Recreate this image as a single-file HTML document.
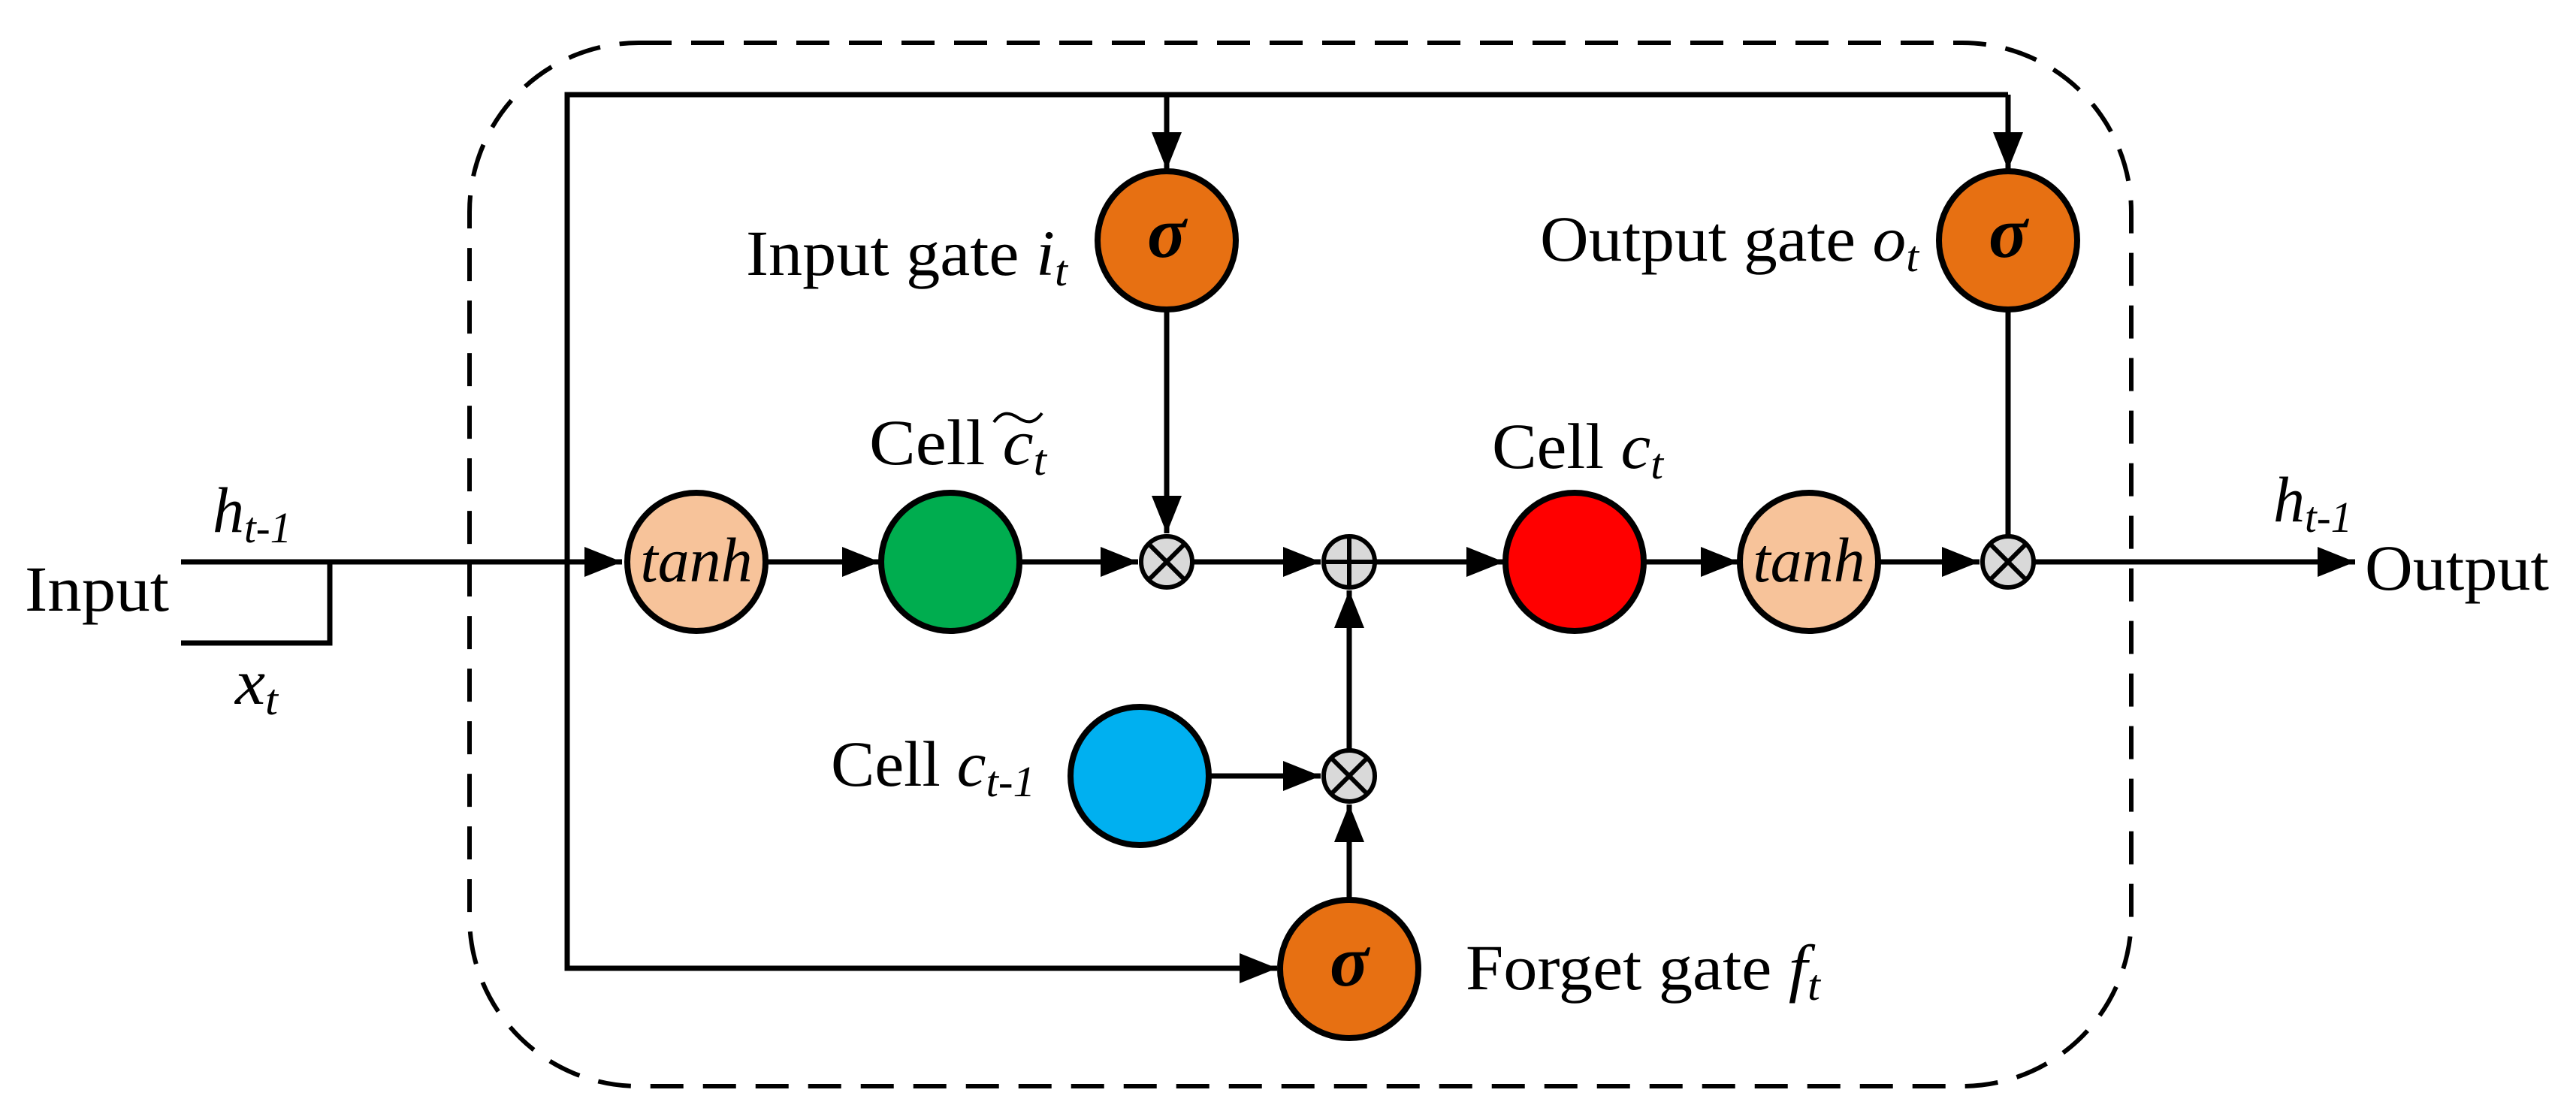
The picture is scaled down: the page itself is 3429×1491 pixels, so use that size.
<!DOCTYPE html>
<html><head><meta charset="utf-8"><style>html,body{margin:0;padding:0;background:#fff}svg{display:block}text{font-family:"Liberation Serif","Times New Roman",serif}</style></head>
<body>
<svg width="3429" height="1491" viewBox="0 0 3429 1491" xmlns="http://www.w3.org/2000/svg">
<defs>
<marker id="a" markerWidth="50" markerHeight="40" refX="50" refY="20" orient="auto" markerUnits="userSpaceOnUse">
<path d="M0,0 L50,20 L0,40 Z" fill="#000"/></marker>
</defs>
<rect x="625" y="57" width="2212" height="1389" rx="225" ry="225" fill="none" stroke="#000" stroke-width="6" stroke-dasharray="44,26"/>
<g stroke="#000" stroke-width="7" fill="none">
<line x1="241" y1="748" x2="828" y2="748" marker-end="url(#a)"/>
<polyline points="241,856 439,856 439,748"/>
<polyline points="1700,1289 755,1289 755,126 2673,126"/>
<line x1="755" y1="1289" x2="1700" y2="1289" marker-end="url(#a)"/>
<line x1="1553" y1="126" x2="1553" y2="226" marker-end="url(#a)"/>
<line x1="2673" y1="126" x2="2673" y2="226" marker-end="url(#a)"/>
<line x1="1020" y1="748" x2="1171" y2="748" marker-end="url(#a)"/>
<line x1="1358" y1="748" x2="1515" y2="748" marker-end="url(#a)"/>
<line x1="1589" y1="748" x2="1758" y2="748" marker-end="url(#a)"/>
<line x1="1832" y1="748" x2="2002" y2="748" marker-end="url(#a)"/>
<line x1="2189" y1="748" x2="2314" y2="748" marker-end="url(#a)"/>
<line x1="2501" y1="748" x2="2635" y2="748" marker-end="url(#a)"/>
<line x1="2709" y1="748" x2="3135" y2="748" marker-end="url(#a)"/>
<line x1="1553" y1="412" x2="1553" y2="710" marker-end="url(#a)"/>
<line x1="2673" y1="412" x2="2673" y2="712"/>
<line x1="1610" y1="1033" x2="1758" y2="1033" marker-end="url(#a)"/>
<line x1="1796" y1="997" x2="1796" y2="786" marker-end="url(#a)"/>
<line x1="1796" y1="1197" x2="1796" y2="1071" marker-end="url(#a)"/>
</g>
<g stroke="#000" stroke-width="8">
<ellipse cx="1553" cy="320" rx="92" ry="92" fill="#e77012"/>
<ellipse cx="2673" cy="320" rx="92" ry="92" fill="#e77012"/>
<ellipse cx="1796" cy="1290" rx="92" ry="92" fill="#e77012"/>
<ellipse cx="927" cy="748" rx="92" ry="92" fill="#f7c39a"/>
<ellipse cx="2408" cy="748" rx="92" ry="92" fill="#f7c39a"/>
<ellipse cx="1265" cy="748" rx="92" ry="92" fill="#00ad4f"/>
<ellipse cx="2096" cy="748" rx="92" ry="92" fill="#ff0000"/>
<ellipse cx="1517" cy="1033" rx="92" ry="92" fill="#00b0f0"/>
</g>
<g stroke="#000" stroke-width="6" fill="#d9d9d9">
<circle cx="1553" cy="748" r="34"/>
<circle cx="2673" cy="748" r="34"/>
<circle cx="1796" cy="1033" r="34"/>
<circle cx="1796" cy="748" r="34"/>
<path d="M1529,724 L1577,772 M1577,724 L1529,772 M2649,724 L2697,772 M2697,724 L2649,772 M1772,1009 L1820,1057 M1820,1009 L1772,1057 M1796,714 L1796,782 M1762,748 L1830,748" fill="none"/>
</g>
<g font-style="italic" text-anchor="middle">
<text x="1553" y="342" font-size="96" font-weight="bold">σ</text>
<text x="2673" y="342" font-size="96" font-weight="bold">σ</text>
<text x="1796" y="1312" font-size="96" font-weight="bold">σ</text>
<text x="927" y="774" font-size="84">tanh</text>
<text x="2408" y="774" font-size="84">tanh</text>
</g>
<g font-size="86">
<text x="33" y="813" textLength="192" lengthAdjust="spacingAndGlyphs">Input</text>
<text x="3148" y="785" textLength="245" lengthAdjust="spacingAndGlyphs">Output</text>
<text x="993" y="366" textLength="428" lengthAdjust="spacingAndGlyphs">Input gate <tspan font-style="italic">i</tspan><tspan font-style="italic" font-size="58" dy="14">t</tspan></text>
<text x="2050" y="347" textLength="504" lengthAdjust="spacingAndGlyphs">Output gate <tspan font-style="italic">o</tspan><tspan font-style="italic" font-size="58" dy="14">t</tspan></text>
<text x="1157" y="618" textLength="236" lengthAdjust="spacingAndGlyphs">Cell <tspan font-style="italic">c</tspan><tspan font-style="italic" font-size="58" dy="14">t</tspan></text>
<text x="1986" y="623" textLength="228" lengthAdjust="spacingAndGlyphs">Cell <tspan font-style="italic">c</tspan><tspan font-style="italic" font-size="58" dy="14">t</tspan></text>
<text x="1106" y="1046" textLength="272" lengthAdjust="spacingAndGlyphs">Cell <tspan font-style="italic">c</tspan><tspan font-style="italic" font-size="58" dy="14">t-1</tspan></text>
<text x="1951" y="1317" textLength="472" lengthAdjust="spacingAndGlyphs">Forget gate <tspan font-style="italic">f</tspan><tspan font-style="italic" font-size="58" dy="14">t</tspan></text>
<text x="283" y="708" font-style="italic" textLength="105" lengthAdjust="spacingAndGlyphs">h<tspan font-size="58" dy="14">t-1</tspan></text>
<text x="3026" y="694" font-style="italic" textLength="105" lengthAdjust="spacingAndGlyphs">h<tspan font-size="58" dy="14">t-1</tspan></text>
<text x="313" y="937" font-style="italic" textLength="57" lengthAdjust="spacingAndGlyphs">x<tspan font-size="58" dy="14">t</tspan></text>
</g>
<path d="M1323,562 C1333,548 1343,548 1355,556 C1367,564 1377,564 1387,550" stroke="#000" stroke-width="4" fill="none"/>
</svg>
</body></html>
